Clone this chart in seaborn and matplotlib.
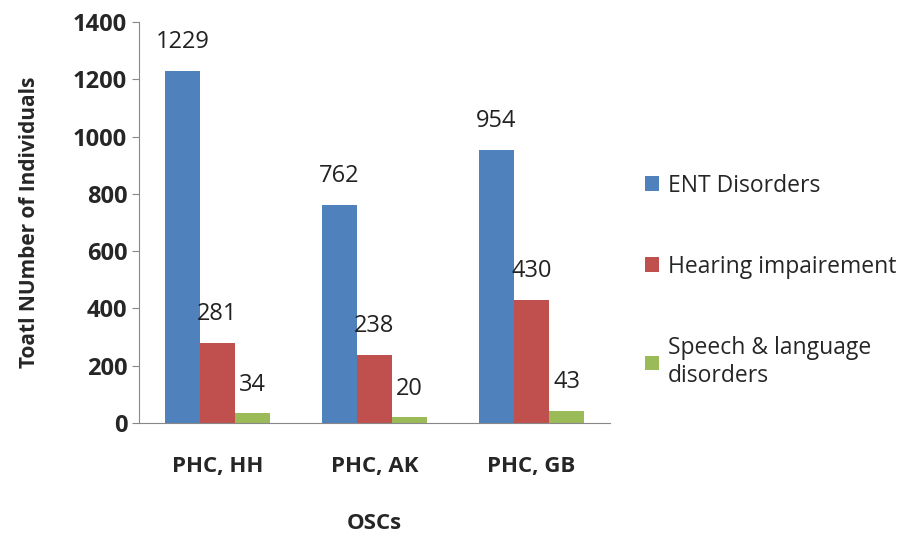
import pandas as pd
import seaborn as sns
import matplotlib.pyplot as plt

centres = ["PHC, HH", "PHC, AK", "PHC, GB"]
series = ["ENT Disorders", "Hearing impairement", "Speech & language\ndisorders"]
ent = [1229, 762, 954]
hearing = [281, 238, 430]
speech = [34, 20, 43]

colors = ["#4F81BD", "#C0504D", "#9BBB59"]

data = pd.DataFrame({
    "OSCs": centres * 3,
    "Group": [series[0]] * 3 + [series[1]] * 3 + [series[2]] * 3,
    "Count": ent + hearing + speech,
})

sns.set_style("white")
plt.rcParams["font.family"] = ["Open Sans", "DejaVu Sans"]

fig = plt.figure(figsize=(9.07, 5.33), dpi=100)
ax = fig.add_axes([139 / 907, 1 - 423 / 533, (610 - 139) / 907, (423 - 22) / 533])

sns.barplot(data=data, x="OSCs", y="Count", hue="Group", palette=colors,
            width=0.67, saturation=1, linewidth=0, ax=ax, legend=True)

for cont in ax.containers:
    ax.bar_label(cont, padding=12, fontsize=17, color="#222222")

ax.set_ylim(0, 1400)
ax.set_yticks(range(0, 1401, 200))
ax.set_xlim(-0.5, 2.5)
for s in ["top", "right"]:
    ax.spines[s].set_visible(False)
for s in ["left", "bottom"]:
    ax.spines[s].set_color("#888888")
ax.tick_params(axis="y", left=True, length=5, color="#888888", labelsize=17)
ax.tick_params(axis="x", bottom=False, labelsize=16, pad=20)
for lab in ax.get_xticklabels() + ax.get_yticklabels():
    lab.set_fontweight("bold")
ax.set_xlabel("OSCs", fontsize=16, fontweight="bold", labelpad=26)
ax.set_ylabel("Toatl NUmber of Individuals", fontsize=15, fontweight="bold", labelpad=24)

ax.legend(loc="center left", bbox_to_anchor=(1.03, 0.355), frameon=False,
          fontsize=16.5, handlelength=0.6, handleheight=0.6, handletextpad=0.4,
          labelspacing=2.5)

fig.savefig("out.png", dpi=100)
